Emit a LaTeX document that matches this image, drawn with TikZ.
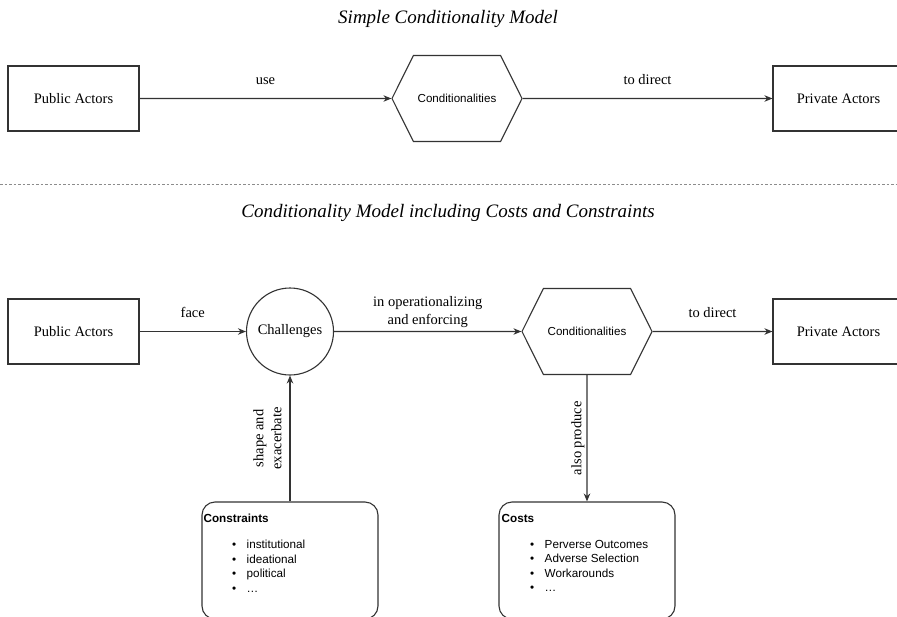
\documentclass[tikz,border=0pt]{standalone}
\usepackage{fontspec}
\setmainfont{Liberation Serif}
\setsansfont{Liberation Sans}
\usetikzlibrary{arrows.meta, positioning, shapes.symbols}

\newcommand{\listitem}[1]{\hspace*{28.5pt}\textbullet\hspace{10.5pt}#1}

\begin{document}
\begin{tikzpicture}[
    x=1pt, y=-1pt,
    actor/.style={draw=black!80, line width=1.1pt, minimum width=131pt, minimum height=65pt,
                  inner sep=0pt, font=\fontsize{14.5}{18}\selectfont},
    cond/.style={signal, signal to=west and east, signal pointer angle=127, draw=black!80,
                 line width=1.1pt, minimum width=130pt, minimum height=86pt, inner sep=0pt,
                 font=\sffamily\fontsize{11.6}{14}\selectfont},
    chall/.style={circle, draw=black!80, line width=1.1pt, minimum size=87pt, inner sep=0pt,
                  font=\fontsize{14.5}{18}\selectfont},
    listbox/.style={draw=black!80, line width=1.1pt, rounded corners=13pt,
                    minimum width=176pt, minimum height=117pt},
    listtext/.style={font=\sffamily\fontsize{11.7}{14.5}\selectfont, align=left, inner sep=0pt},
    title/.style={font=\itshape\fontsize{19}{22}\selectfont},
    lbl/.style={font=\fontsize{14.5}{18}\selectfont, align=center},
    sep/.style={draw=black!45, line width=1.1pt, dash pattern=on 2.5pt off 2pt},
    arr/.style={-{Stealth[length=8pt, width=6.5pt]}, line width=1.1pt, draw=black!80}
]
\clip (0,0) rectangle (897,616);

% simple model
\node[title] (simple) at (448,19) {Simple Conditionality Model};
\node[actor] (pub1) at (73.5,98.5) {Public Actors};
\node[cond] (cond1) at (457,98.5) {Conditionalities};
\node[actor] (priv1) at (838.5,98.5) {Private Actors};

\draw[arr] (pub1) -- node[lbl, above=9.5pt] {use} (cond1);
\draw[arr] (cond1) -- node[lbl, above=9.5pt] {to direct} (priv1);

\coordinate (sepl) at (0,184.5);
\coordinate (sepr) at (897,184.5);
\draw[sep] (sepl) -- (sepr);

% extended model
\node[title] (full) at (448,212.5) {Conditionality Model including Costs and Constraints};
\node[actor] (pub2) at (73.5,331.5) {Public Actors};
\node[chall] (chall) at (290,331.5) {Challenges};
\node[cond] (cond2) at (587,331.5) {Conditionalities};
\node[actor] (priv2) at (838.5,331.5) {Private Actors};

\node[listbox] (cons) at (290,560.5) {};
\node[listbox] (costs) at (587,560.5) {};
\node[listtext, anchor=north west, below right=12.5pt and 2pt of cons.north west] (conslist)
    {\textbf{Constraints}\\[11.5pt]
     \listitem{institutional}\\
     \listitem{ideational}\\
     \listitem{political}\\
     \listitem{\ldots}};
\node[listtext, anchor=north west, below right=12.5pt and 3pt of costs.north west] (costslist)
    {\textbf{Costs}\\[11.5pt]
     \listitem{Perverse Outcomes}\\
     \listitem{Adverse Selection}\\
     \listitem{Workarounds}\\
     \listitem{\ldots}};

\draw[arr] (pub2) -- node[lbl, above=9.5pt] {face} (chall);
\draw[arr] (chall) -- node[lbl, above=0pt] {in operationalizing\\and enforcing} (cond2);
\draw[arr] (cond2) -- node[lbl, above=9.5pt] {to direct} (priv2);
\draw[arr] (cons) -- node[lbl, rotate=90, anchor=south, inner sep=8pt] {shape and\\exacerbate} (chall);
\draw[arr] (cond2) -- node[lbl, rotate=90, anchor=south, inner sep=2pt] {also produce} (costs);
\end{tikzpicture}
\end{document}
